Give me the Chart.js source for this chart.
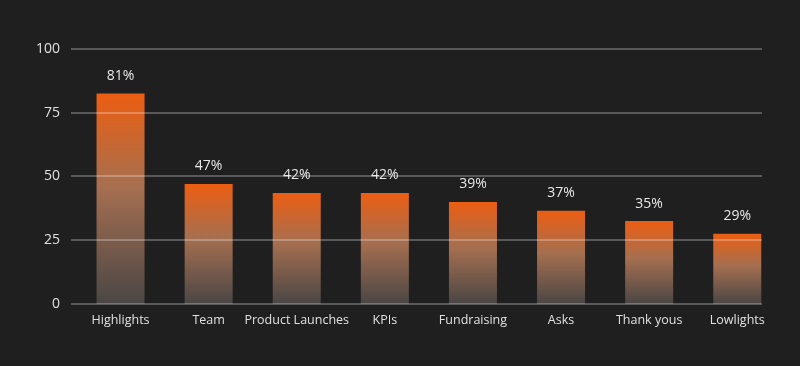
<!DOCTYPE html>
<html>
<head>
<meta charset="utf-8">
<script src="https://cdn.jsdelivr.net/npm/chart.js@4"></script>
<style>
  html, body { margin: 0; padding: 0; background: #1f1f1f; }
  #wrap { width: 800px; height: 366px; }
</style>
</head>
<body>
<div id="wrap"><canvas id="myChart" width="800" height="366"></canvas></div>
<script>
const categories = ['Highlights', 'Team', 'Product Launches', 'KPIs', 'Fundraising', 'Asks', 'Thank yous', 'Lowlights'];
const values = [82.5, 47, 43.5, 43.5, 40, 36.5, 32.5, 27.5];
const valueLabels = ['81%', '47%', '42%', '42%', '39%', '37%', '35%', '29%'];
const yTicks = [0, 25, 50, 75, 100];

const fontFamily = "'Open Sans', 'Noto Sans', sans-serif";

// per-bar vertical gradient: orange at top fading to grey at the base
function barGradient(context) {
  const chart = context.chart;
  const y = chart.scales.y;
  if (!y || context.dataIndex === undefined) return '#e8600f';
  const top = y.getPixelForValue(values[context.dataIndex]);
  const bottom = y.getPixelForValue(0);
  if (!isFinite(top) || !isFinite(bottom) || top === bottom) return '#e8600f';
  const g = chart.ctx.createLinearGradient(0, top, 0, bottom);
  g.addColorStop(0, '#ec5e12');
  g.addColorStop(0.45, '#a56f50');
  g.addColorStop(1, '#4a4645');
  return g;
}

// horizontal grid lines, drawn over the bars
const gridLines = {
  id: 'gridLines',
  afterDatasetsDraw(chart) {
    const ctx = chart.ctx;
    const y = chart.scales.y;
    ctx.save();
    ctx.strokeStyle = 'rgba(255,255,255,0.26)';
    ctx.lineWidth = 2;
    yTicks.forEach(function (t) {
      const py = Math.round(y.getPixelForValue(t));
      ctx.beginPath();
      ctx.moveTo(71, py);
      ctx.lineTo(762, py);
      ctx.stroke();
    });
    ctx.restore();
  }
};

// percentage labels above each bar
const barLabels = {
  id: 'barLabels',
  afterDatasetsDraw(chart) {
    const ctx = chart.ctx;
    const meta = chart.getDatasetMeta(0);
    ctx.save();
    ctx.fillStyle = '#e8e8e8';
    ctx.font = '14px ' + fontFamily;
    ctx.textAlign = 'center';
    ctx.textBaseline = 'middle';
    meta.data.forEach(function (bar, i) {
      ctx.fillText(valueLabels[i], bar.x, bar.y - 17.5);
    });
    ctx.restore();
  }
};

var ctx = document.getElementById('myChart');
var myChart = new Chart(ctx, {
  type: 'bar',
  data: {
    labels: categories,
    datasets: [{
      data: values,
      backgroundColor: barGradient,
      borderWidth: 0,
      barPercentage: 1,
      categoryPercentage: 0.545
    }]
  },
  options: {
    responsive: false,
    animation: false,
    devicePixelRatio: 1,
    layout: { padding: { top: 48.7, right: 18.7, left: 0, bottom: 0 } },
    plugins: { legend: { display: false }, tooltip: { enabled: false } },
    scales: {
      x: {
        grid: { display: false, drawTicks: false },
        border: { display: false },
        ticks: {
          color: '#e0e0e0',
          font: { family: fontFamily, size: 12.5 },
          padding: 9,
          maxRotation: 0,
          autoSkip: false
        },
        afterFit: function (scale) { scale.height = 62; }
      },
      y: {
        min: 0,
        max: 100,
        afterBuildTicks: function (scale) {
          scale.ticks = yTicks.map(function (v) { return { value: v }; });
        },
        grid: { display: false, drawTicks: false },
        border: { display: false },
        ticks: {
          color: '#e0e0e0',
          font: { family: fontFamily, size: 14 },
          padding: 16.5
        },
        afterFit: function (scale) { scale.width = 76.5; }
      }
    }
  },
  plugins: [gridLines, barLabels]
});
</script>
</body>
</html>
